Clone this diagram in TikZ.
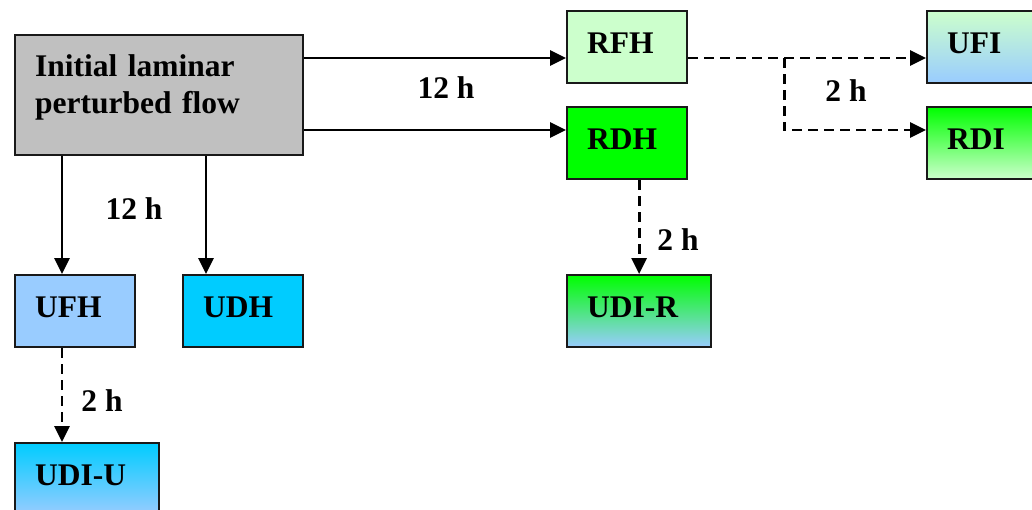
\documentclass[tikz,border=0pt]{standalone}
\usepackage{fontspec}
\setmainfont{Liberation Serif}
\usetikzlibrary{arrows.meta,calc}
\definecolor{boxgray}{HTML}{C0C0C0}
\definecolor{palegreen}{HTML}{CCFFCC}
\definecolor{brightgreen}{HTML}{00FF00}
\definecolor{paleblue}{HTML}{99CCFF}
\definecolor{skyblue}{HTML}{00CCFF}

\begin{document}
\begin{tikzpicture}[x=1pt,y=-1pt,
  every node/.style={font=\fontsize{31.5}{37}\selectfont\bfseries},
  box/.style={draw=black!90,line width=2.2pt,anchor=north west,inner xsep=20pt,inner ysep=0pt,
    align=left,text width=80pt,minimum height=72pt,text height=22pt,text depth=10pt},
  wide/.style={text width=104pt},
  flow/.style={line width=2.8pt,-{Triangle[length=16pt,width=15pt]}},
  later/.style={flow,dash pattern=on 10pt off 6pt},
  tag/.style={inner sep=0pt}]
\useasboundingbox (0,0) rectangle (1032,509);
\clip (0,0) rectangle (1032,509);
\node [box,fill=boxgray,text width=248pt,minimum height=120pt,text depth=60pt] (init) at (14,34)
  {Initial laminar\\perturbed flow};
\node [box,fill=palegreen] (rfh) at (566,10) {RFH};
\node [box,fill=brightgreen] (rdh) at (566,106) {RDH};
\node [box,top color=palegreen,bottom color=paleblue] (ufi) at (926,10) {UFI};
\node [box,top color=brightgreen,bottom color=palegreen] (rdi) at (926,106) {RDI};
\node [box,fill=paleblue] (ufh) at (14,274) {UFH};
\node [box,fill=skyblue] (udh) at (182,274) {UDH};
\node [box,wide,top color=brightgreen,bottom color=paleblue] (udir) at (566,274) {UDI-R};
\node [box,wide,top color=skyblue,bottom color=paleblue] (udiu) at (14,442) {UDI-U};
\coordinate (rfhin) at ($(rfh.north west)+(0,48)$);
\coordinate (rdhin) at ($(rdh.north west)+(0,24)$);
\coordinate (ufhin) at ($(ufh.north west)+(48,0)$);
\coordinate (udhin) at ($(udh.north west)+(24,0)$);
\coordinate (ufiin) at ($(ufi.north west)+(0,48)$);
\coordinate (rdiin) at ($(rdi.north west)+(0,24)$);
\coordinate (udiuin) at ($(udiu.north west)+(48,0)$);
\coordinate (split) at ($(rfh.east |- rfhin)+(96,0)$);
\draw [flow] (init.east |- rfhin) -- (rfhin);
\draw [flow] (init.east |- rdhin) -- (rdhin);
\draw [flow] (init.south -| ufhin) -- (ufhin);
\draw [flow] (init.south -| udhin) -- (udhin);
\draw [later] (rfh.east |- ufiin) -- (ufiin);
\draw [later] (split) -- (split |- rdiin) -- (rdiin);
\draw [later] (rdh.south -| udir.north) -- (udir.north);
\draw [later] (ufh.south -| udiuin) -- (udiuin);
\node [tag] (t1) at (446,88) {12 h};
\node [tag] (t2) at (134,209) {12 h};
\node [tag] (t3) at (846,91) {2 h};
\node [tag] (t4) at (678,240) {2 h};
\node [tag] (t5) at (102,401) {2 h};
\end{tikzpicture}
\end{document}
